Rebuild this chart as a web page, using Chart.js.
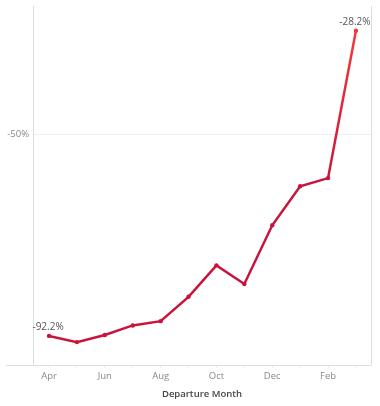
<!DOCTYPE html>
<html>
<head>
<meta charset="utf-8">
<script src="https://cdn.jsdelivr.net/npm/chart.js@4"></script>
<style>
  html, body { margin: 0; padding: 0; background: #fff; }
  #wrap { width: 380px; height: 406px; position: relative; }
</style>
</head>
<body>
<div id="wrap"><canvas id="c"></canvas></div>
<script>
// data
const months = ['Apr', 'May', 'Jun', 'Jul', 'Aug', 'Sep', 'Oct', 'Nov', 'Dec', 'Jan', 'Feb', 'Mar'];
const change = [-92.2, -93.5, -92.0, -90.0, -89.1, -84.0, -77.4, -81.3, -69.0, -60.8, -59.1, -28.2];
const yTicks = [-50];
const labelled = ['Apr', 'Mar']; // points that carry a value label

const FONT = "'Open Sans', sans-serif";

// colour runs from crimson to red near the top of the range
function lineGradient(chart) {
  const { ctx, chartArea, scales } = chart;
  if (!chartArea) return '#c8143c';
  const y0 = scales.y.getPixelForValue(-60);
  const y1 = scales.y.getPixelForValue(-30);
  const g = ctx.createLinearGradient(0, y0, 0, y1);
  g.addColorStop(0, '#c8143c');
  g.addColorStop(1, '#f5363a');
  return g;
}

const frame = {
  id: 'frame',
  beforeDatasetsDraw(chart) {
    const { ctx, chartArea } = chart;
    ctx.save();
    ctx.strokeStyle = '#dedede';
    ctx.lineWidth = 1;
    ctx.beginPath();
    // bottom rule runs under the y labels too
    ctx.moveTo(6, chartArea.bottom + 0.5);
    ctx.lineTo(chartArea.right + 0.5, chartArea.bottom + 0.5);
    // right edge
    ctx.moveTo(chartArea.right + 0.5, chartArea.top);
    ctx.lineTo(chartArea.right + 0.5, chartArea.bottom);
    ctx.stroke();
    ctx.restore();
  },
  afterDatasetsDraw(chart) {
    const { ctx } = chart;
    const meta = chart.getDatasetMeta(0);
    ctx.save();
    ctx.font = '10px ' + FONT;
    ctx.fillStyle = '#555';
    ctx.textAlign = 'center';
    ctx.textBaseline = 'bottom';
    meta.data.forEach((pt, i) => {
      if (!labelled.includes(months[i])) return;
      ctx.fillText(change[i].toFixed(1) + '%', pt.x - 1, pt.y - 4);
    });
    ctx.restore();
  }
};

new Chart(document.getElementById('c'), {
  type: 'line',
  data: {
    datasets: [{
      data: change.map((v, i) => ({ x: i, y: v })),
      borderColor: ctx => lineGradient(ctx.chart),
      pointBackgroundColor: ctx => lineGradient(ctx.chart),
      pointBorderWidth: 0,
      borderWidth: 2.5,
      pointRadius: 2.2,
      tension: 0
    }]
  },
  options: {
    responsive: true,
    maintainAspectRatio: false,
    animation: false,
    layout: { padding: { top: 6, right: 9, left: 0, bottom: 0 } },
    plugins: { legend: { display: false }, tooltip: { enabled: false } },
    scales: {
      x: {
        type: 'linear',
        min: -0.575,
        max: 11.54,
        afterBuildTicks: axis => { axis.ticks = months.map((m, i) => ({ value: i })); },
        afterFit: axis => { axis.height = 41; },
        ticks: {
          autoSkip: false,
          maxRotation: 0,
          padding: 3,
          color: '#8a8a8a',
          font: { family: FONT, size: 9.5 },
          callback: v => (v % 2 === 0 ? months[v] : '')
        },
        grid: { drawOnChartArea: false, tickLength: 3, color: '#ececec' },
        border: { display: false },
        title: {
          display: true,
          text: 'Departure Month',
          color: '#444',
          font: { family: FONT, size: 9.5, weight: '600' },
          padding: { top: 0, bottom: 6 }
        }
      },
      y: {
        min: -98.3,
        max: -23,
        afterBuildTicks: axis => { axis.ticks = yTicks.map(v => ({ value: v })); },
        afterFit: axis => {
          axis.width = 33;
          axis.paddingTop = 0;
          axis.paddingBottom = 0;
        },
        ticks: {
          padding: 4,
          color: '#8a8a8a',
          font: { family: FONT, size: 9.5 },
          callback: v => v + '%'
        },
        grid: { color: '#efefef', drawTicks: false },
        border: { color: '#dedede' }
      }
    }
  },
  plugins: [frame]
});
</script>
</body>
</html>
